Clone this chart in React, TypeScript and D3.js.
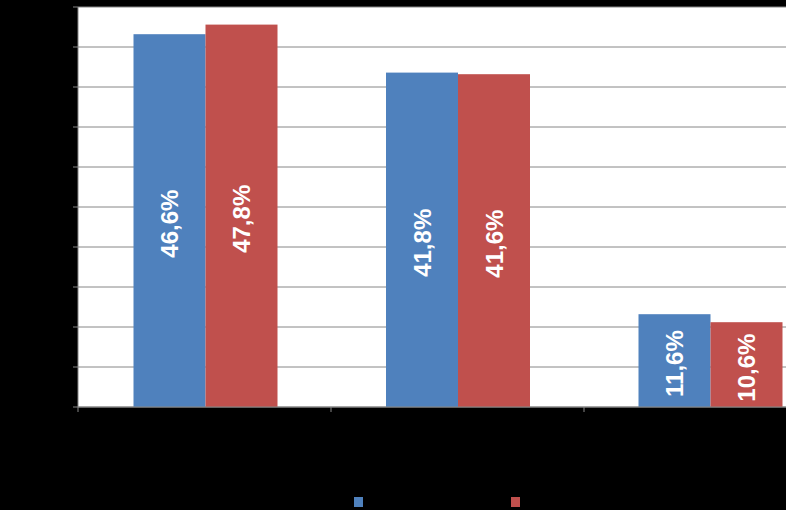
import React from "react";
import * as d3 from "d3";

const categories = ["A", "B", "C"];
const seriesNames = ["Série 1", "Série 2"];
const series1 = [46.6, 41.8, 11.6];
const series2 = [47.8, 41.6, 10.6];
const yTicks = [0, 5, 10, 15, 20, 25, 30, 35, 40, 45, 50];
const colors = ["#4F81BD", "#C0504D"];

const W = 786;
const H = 510;
const FONT = "'Liberation Sans', Arial, sans-serif";

export default function App() {
  const left = 78;
  const top = 7;
  const bottom = 407;
  const bandW = 252.5;
  const x = d3
    .scaleBand<string>()
    .domain(categories)
    .range([left, left + bandW * categories.length])
    .paddingInner(0)
    .paddingOuter(0);
  const y = d3.scaleLinear().domain([0, 50]).range([bottom, top]);
  const barW = 72;
  const gap = 55.5;
  const data = [series1, series2];
  const fmt = (v: number) => v.toFixed(1).replace(".", ",") + "%";

  return (
    <svg
      width={W}
      height={H}
      style={{ position: "absolute", left: 0, top: 0, background: "#000" }}
    >
      <rect x={0} y={0} width={W} height={H} fill="#000" />
      <rect x={left} y={top} width={W - left} height={bottom - top} fill="#fff" />
      {yTicks.map((t) => (
        <g key={t}>
          <line x1={left} x2={W} y1={y(t)} y2={y(t)} stroke="#868686" strokeWidth={1} />
          <line x1={left - 5} x2={left} y1={y(t)} y2={y(t)} stroke="#868686" strokeWidth={1} />
          <text
            x={left - 8}
            y={y(t)}
            dy="0.35em"
            textAnchor="end"
            style={{ fontFamily: FONT, fontSize: 12 }}
            fill="#000"
          >
            {t}%
          </text>
        </g>
      ))}
      {categories.map((c, ci) =>
        data.map((s, si) => {
          const bx = (x(c) as number) + gap + si * barW;
          const v = s[ci];
          const by = y(v);
          const cx = bx + barW / 2;
          const cy = (by + bottom) / 2 + 3;
          return (
            <g key={c + si}>
              <rect x={bx} y={by} width={barW} height={bottom - by} fill={colors[si]} />
              <text
                transform={`translate(${cx},${cy}) rotate(-90)`}
                textAnchor="middle"
                dy="0.36em"
                style={{ fontFamily: FONT, fontWeight: 700, fontSize: 24 }}
                fill="#fff"
              >
                {fmt(v)}
              </text>
            </g>
          );
        })
      )}
      <line x1={left} x2={left} y1={top} y2={bottom} stroke="#868686" strokeWidth={1} />
      <line x1={left} x2={W} y1={bottom} y2={bottom} stroke="#868686" strokeWidth={1} />
      {[78, 331, 584].map((tx, i) => (
        <line
          key={categories[i]}
          x1={tx}
          x2={tx}
          y1={bottom}
          y2={bottom + 5}
          stroke="#868686"
          strokeWidth={1}
        />
      ))}
      {seriesNames.map((n, i) => (
        <g key={n}>
          <rect x={354 + i * 157} y={497} width={9} height={10} fill={colors[i]} />
          <text
            x={367 + i * 157}
            y={502}
            dy="0.35em"
            style={{ fontFamily: FONT, fontSize: 12 }}
            fill="#000"
          >
            {n}
          </text>
        </g>
      ))}
    </svg>
  );
}
